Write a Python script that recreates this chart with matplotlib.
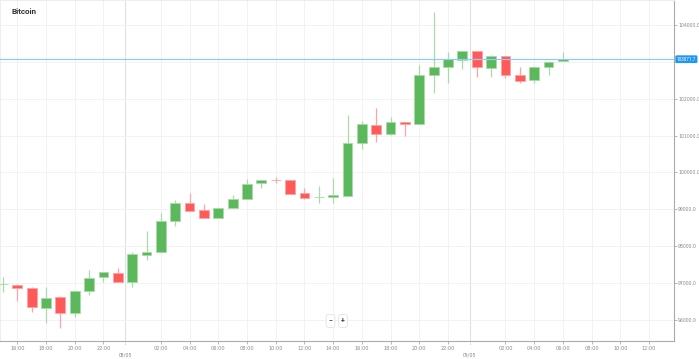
import matplotlib.pyplot as plt
import numpy as np

# hourly candles, hours counted from 07/05 00:00
start_hour = 15
opens = [96960, 96934, 96853, 96310, 96608, 96190, 96771, 97168, 97260, 97032,
         97765, 97830, 98688, 99160, 98978, 98753, 99041, 99277, 99698, 99800,
         99784, 99432, 99318, 99323, 99366, 100805, 101286, 101028, 101375, 101313,
         102643, 102868, 103042, 103294, 102833, 103150, 102635, 102499, 102860, 103015]
highs = [97168, 96969, 96896, 96880, 96644, 96790, 97350, 97290, 97412, 97830,
         98408, 98889, 99250, 99448, 99141, 99035, 99393, 99820, 99800, 99882,
         99790, 99567, 99638, 99839, 101557, 101386, 101739, 101511, 101380, 102906,
         104345, 103275, 103305, 103300, 103186, 103155, 102868, 102887, 103010, 103275]
lows = [96760, 96516, 96218, 95903, 95783, 96082, 96671, 97032, 97016, 96896,
        97621, 97820, 98552, 98955, 98755, 98750, 99035, 99270, 99570, 99703,
        99405, 99277, 99160, 99176, 99360, 100626, 100816, 101020, 100995, 101305,
        102146, 102434, 102806, 102580, 102580, 102569, 102417, 102417, 102635, 103010]
closes = [96975, 96861, 96353, 96598, 96174, 96779, 97124, 97287, 97032, 97784,
          97830, 98671, 99160, 98959, 98761, 99032, 99277, 99676, 99798, 99790,
          99412, 99312, 99328, 99377, 100789, 101305, 101041, 101380, 101313, 102635,
          102868, 103069, 103302, 102860, 103150, 102635, 102480, 102860, 103004, 103071.7]
last_price = 103071.7

hour_ticks = [16, 18, 20, 22, 26, 28, 30, 32, 34, 36, 38, 40, 42, 44, 46, 50, 52, 54, 56, 58, 60]
day_ticks = [23.5, 47.5]
day_labels = ['08/05', '09/05']
price_ticks = np.arange(96000, 104001, 1000)

hours = start_hour + np.arange(len(opens))
opens = np.array(opens)
closes = np.array(closes)
up = closes >= opens

green, green_light = '#5cb85c', '#a8dba8'
red, red_light = '#ff5a5a', '#ffa3a3'

fig = plt.figure(figsize=(6.99, 3.59), dpi=100)
ax = fig.add_axes([0, 18 / 359, 674 / 699, 341 / 359])
plt.rcParams['font.family'] = ['Roboto', 'DejaVu Sans']

# grid
for h in hour_ticks:
    ax.axvline(h, color='#f2f2f2', lw=0.7, zorder=0)
for d in day_ticks:
    ax.axvline(d, color='#e0e0e0', lw=0.8, zorder=0)
for p in price_ticks:
    ax.axhline(p, color='#f2f2f2', lw=0.7, zorder=0)

# candles
wick_cols = np.where(up, green_light, red_light)
body_cols = np.where(up, green, red)
ax.vlines(hours, lows, highs, colors=wick_cols, lw=0.9, zorder=2)
heights = closes - opens
heights = np.where(np.abs(heights) < 15, 0.1, heights)
ax.bar(hours, heights, bottom=opens, width=0.68, color=body_cols,
       edgecolor=wick_cols, linewidth=0.6, zorder=3)

# last price line
ax.axhline(last_price, color='#90caf9', lw=0.9, zorder=4)

ax.set_xlim(14.795, 61.74)
ax.set_ylim(95422, 104679)

ax.yaxis.tick_right()
ax.set_yticks(price_ticks)
# the 103000 label sits under the price tag in the original
ax.set_yticklabels(['' if p == 103000 else f'{p:.1f}' for p in price_ticks])
ax.set_xticks(hour_ticks)
ax.set_xticklabels([f'{h % 24:02d}:00' for h in hour_ticks])
ax.tick_params(axis='both', labelsize=3.6, colors='#999999', labelcolor='#888888',
               length=2, width=0.5, pad=1.5)
ax.tick_params(axis='y', labelsize=3.3, pad=1)

for d, lab in zip(day_ticks, day_labels):
    ax.text(d, -0.035, lab, transform=ax.get_xaxis_transform(), ha='center', va='top',
            fontsize=3.6, color='#888888')
    ax.plot([d, d], [0, -0.012], transform=ax.get_xaxis_transform(), color='#aaaaaa',
            lw=0.5, ls=(0, (1, 1)), clip_on=False)

for side in ['top', 'left']:
    ax.spines[side].set_color('#eeeeee')
for side in ['right', 'bottom']:
    ax.spines[side].set_color('#aaaaaa')
    ax.spines[side].set_linewidth(0.8)

# price label on the axis
ax.text(1.004, last_price, f'{last_price:.1f}', transform=ax.get_yaxis_transform(),
        ha='left', va='center', fontsize=3.3, color='white', zorder=6,
        bbox=dict(boxstyle='round,pad=0.3,rounding_size=0.3', fc='#2196f3', ec='none'))

# title
fig.text(12 / 699, 1 - 11 / 359, 'Bitcoin', fontsize=5.8, fontweight='bold',
         color='#333333', va='center', ha='left')

# zoom buttons
fig.text(330.5 / 699, 1 - 321 / 359, '\u2212', fontsize=5, fontweight='bold', color='#444444',
         ha='center', va='center',
         bbox=dict(boxstyle='round,pad=0.35', fc='white', ec='#dddddd', lw=0.5))
fig.text(343 / 699, 1 - 321 / 359, '+', fontsize=5, fontweight='bold', color='#444444',
         ha='center', va='center',
         bbox=dict(boxstyle='round,pad=0.35', fc='white', ec='#dddddd', lw=0.5))

fig.savefig('out.png', dpi=100)
